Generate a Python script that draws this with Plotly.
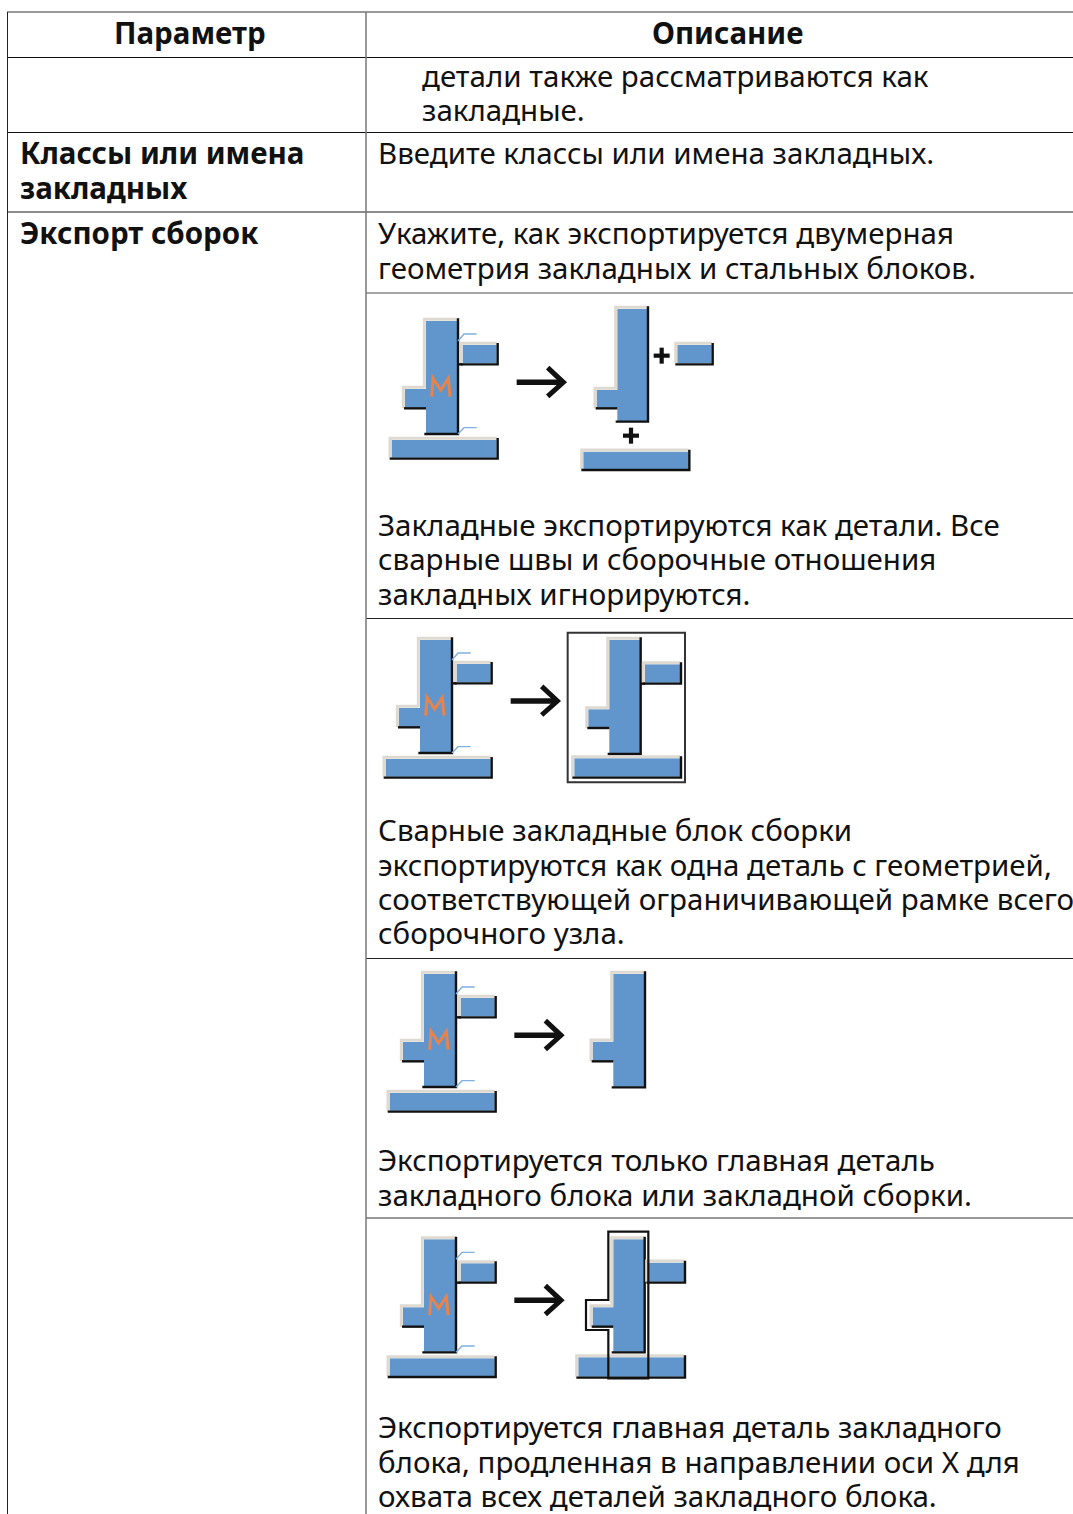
import plotly.graph_objects as go

FONT = "Noto Sans"
FS = 29.5
TXT = "#111111"
BLUE = "#6096cb"
HI = "#dedad2"
BK = "#111111"
ORANGE = "#e8834c"
WELD = "#7fb0e0"

headers = ["Параметр", "Описание"]
bold_labels = ["Классы или имена", "закладных", "Экспорт сборок"]
body_lines = [
    "детали также рассматриваются как",
    "закладные.",
    "Введите классы или имена закладных.",
    "Укажите, как экспортируется двумерная",
    "геометрия закладных и стальных блоков.",
    "Закладные экспортируются как детали. Все",
    "сварные швы и сборочные отношения",
    "закладных игнорируются.",
    "Сварные закладные блок сборки",
    "экспортируются как одна деталь с геометрией,",
    "соответствующей ограничивающей рамке всего",
    "сборочного узла.",
    "Экспортируется только главная деталь",
    "закладного блока или закладной сборки.",
    "Экспортируется главная деталь закладного",
    "блока, продленная в направлении оси X для",
    "охвата всех деталей закладного блока.",
]

body_y = [75, 109, 152, 232, 267, 524, 558, 593, 829, 864, 898, 932, 1159, 1194, 1426, 1461, 1495]
body_x = [421, 421] + [377] * 15
bold_y = [152, 187, 232]

shapes, annos = [], []


def line(x0, y0, x1, y1, color, w):
    shapes.append(dict(type="line", x0=x0, y0=y0, x1=x1, y1=y1, line=dict(color=color, width=w)))


def path(d, fill=None, color=None, w=0):
    s = dict(type="path", path=d, line=dict(color=color or "rgba(0,0,0,0)", width=w))
    if fill:
        s["fillcolor"] = fill
    shapes.append(s)


def poly(pts, close=False):
    d = "M " + " L ".join(f"{x:.2f},{y:.2f}" for x, y in pts)
    return d + (" Z" if close else "")


class Z:
    """zoom-crop coordinates (3x) to page pixels"""

    def __init__(self, ox, oy, dx=0, dy=0):
        self.ox, self.oy, self.dx, self.dy = ox, oy, dx, dy

    def __call__(self, pts):
        return [(self.ox + (x + self.dx) / 3, self.oy + (y + self.dy) / 3) for x, y in pts]


def body(z, x0, x1, y0, y1, tx, ty0, ty1):
    path(poly(z([(x0, y0), (x1, y0), (x1, y1), (x0, y1), (x0, ty1), (tx, ty1), (tx, ty0), (x0, ty0)]), True), fill=BLUE)
    path(poly(z([(tx - 5, ty1 + 2), (tx - 5, ty0 - 5), (x0 - 5, ty0 - 5), (x0 - 5, y0 - 5), (x1, y0 - 5)])), color=HI, w=3)
    path(poly(z([(tx - 3, ty1 + 2), (x0, ty1 + 2)])), color=BK, w=2.4)
    path(poly(z([(x0 - 5, y1 + 2), (x1 + 2, y1 + 2), (x1 + 2, y0 - 8)])), color=BK, w=2.4)


def plate(z, x0, x1, y0, y1):
    path(poly(z([(x0, y0), (x1, y0), (x1, y1), (x0, y1)]), True), fill=BLUE)
    path(poly(z([(x0 - 5, y1), (x0 - 5, y0 - 5), (x1, y0 - 5)])), color=HI, w=3)
    path(poly(z([(x0 - 6, y1 + 3), (x1 + 3, y1 + 3), (x1 + 3, y0 - 6)])), color=BK, w=2.4)


def arrow(z, x0, x1, y):
    line(*z([(x0, y)])[0], *z([(x1 - 8, y)])[0], BK, 5.5)
    path(poly(z([(x1 - 52, y - 44), (x1 - 5, y), (x1 - 52, y + 42)])), color=BK, w=5)


def left_icon(ox, oy, dx, dy):
    z = Z(ox, oy, dx, dy)
    body(z, 168, 262, 78, 415, 105, 282, 338)
    plate(z, 278, 380, 150, 205)
    line(*z([(262, 208)])[0], *z([(278, 208)])[0], BK, 2.4)
    plate(z, 65, 380, 435, 488)
    path(poly(z([(264, 138), (282, 117), (320, 117)])), color=WELD, w=1.4)
    path(poly(z([(264, 417), (282, 398), (320, 398)])), color=WELD, w=1.4)
    path(poly(z([(185, 305), (189, 250), (212, 285), (235, 250), (240, 305)])), color=ORANGE, w=3)


def plus(z, cx, cy):
    line(*z([(cx - 24, cy)])[0], *z([(cx + 24, cy)])[0], BK, 4.2)
    line(*z([(cx, cy - 24)])[0], *z([(cx, cy + 24)])[0], BK, 4.2)


# table rules
for y, c, w in [(12, "#777777", 1.5), (57.5, "#111111", 1), (132.5, "#111111", 1), (212, "#666666", 1.5)]:
    line(7, y, 1073, y, c, w)
for y, c, w in [(293, "#888888", 1.5), (618.5, "#222222", 1), (958.5, "#222222", 1), (1218, "#777777", 1.5)]:
    line(366, y, 1073, y, c, w)
line(7.5, 12, 7.5, 1514, "#222222", 1)
line(366, 12, 366, 1514, "#777777", 1.5)

# icon 1
left_icon(370, 295, 0, 0)
z = Z(370, 295)
arrow(z, 440, 585, 262)
body(z, 742, 832, 42, 378, 680, 285, 338)
plate(z, 922, 1025, 150, 205)
plate(z, 640, 955, 470, 522)
plus(z, 875, 182)
plus(z, 783, 422)

# icon 2
left_icon(370, 620, -18, -18)
z = Z(370, 620)
arrow(z, 422, 567, 243)
shapes.append(dict(type="rect", x0=370 + 593 / 3, y0=620 + 38 / 3, x1=370 + 945 / 3, y1=620 + 487 / 3,
                   line=dict(color="#333333", width=2)))
body(z, 718, 810, 60, 400, 655, 268, 322)
plate(z, 825, 930, 133, 188)
line(*z([(812, 191)])[0], *z([(825, 191)])[0], BK, 2.4)
plate(z, 613, 930, 415, 470)

# icon 3
left_icon(370, 960, -6, -36)
z = Z(370, 960)
arrow(z, 433, 578, 226)
body(z, 730, 823, 42, 380, 668, 245, 302)

# icon 4
left_icon(370, 1220, -6, -20)
z = Z(370, 1220)
arrow(z, 433, 578, 241)
body(z, 730, 822, 58, 395, 668, 262, 318)
plate(z, 835, 942, 128, 185)
plate(z, 625, 942, 412, 470)
path(poly(z([(715, 35), (835, 35), (835, 475), (715, 475), (715, 330), (648, 330), (648, 240), (715, 240)]), True),
     color=BK, w=2.2)


def text(s, x, y, bold=False, anchor="left"):
    annos.append(dict(x=x, y=y, xref="x", yref="y", text=f"<b>{s}</b>" if bold else s, showarrow=False,
                      xanchor=anchor, yanchor="middle", align=anchor,
                      font=dict(family=FONT, size=FS, color=TXT), borderpad=0))


text(headers[0], 190, 32, True, "center")
text(headers[1], 727, 32, True, "center")
for s, y in zip(bold_labels, bold_y):
    text(s, 19, y, True)
for s, x, y in zip(body_lines, body_x, body_y):
    text(s, x, y)

fig = go.Figure()
fig.update_layout(
    width=1073, height=1514, margin=dict(l=0, r=0, t=0, b=0),
    paper_bgcolor="white", plot_bgcolor="white", showlegend=False,
    xaxis=dict(range=[0, 1073], visible=False, fixedrange=True),
    yaxis=dict(range=[1514, 0], visible=False, fixedrange=True),
    shapes=shapes, annotations=annos,
)
fig.write_html("out.html", config={"displayModeBar": False},
               post_script="document.body.style.margin='0';document.body.style.overflow='hidden';")
